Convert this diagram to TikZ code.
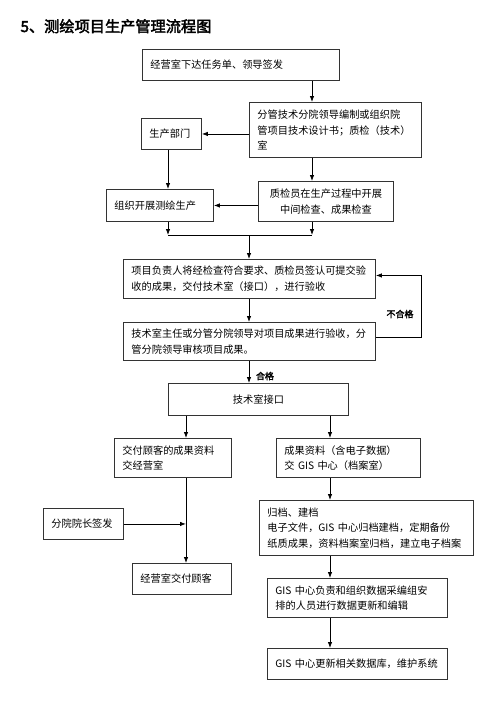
\documentclass[tikz,border=0pt]{standalone}
\usepackage{fontspec}
\setmainfont{Noto Sans CJK SC}[AutoFakeBold=2.5]
\usetikzlibrary{arrows.meta}

\tikzset{
  box/.style={draw=black!80, line width=0.9pt, anchor=north west, inner xsep=8pt, inner ysep=3pt,
    align=left, font=\fontsize{10.2}{15.5}\selectfont},
  arr/.style={-{Latex[length=6pt,width=4.5pt]}, line width=0.8pt},
  lbl/.style={font=\bfseries\fontsize{9}{11}\selectfont, inner sep=1pt}
}

\begin{document}
\begin{tikzpicture}[x=1pt, y=-1pt]
\useasboundingbox (0,0) rectangle (502,705);

\node[anchor=base west, font=\bfseries\fontsize{15.2}{18}\selectfont] (title) at (17,32) {5、测绘项目生产管理流程图};

% upper part
\node[box, minimum width=197pt, minimum height=31pt, text width=181pt] (order) at (142,49) {经营室下达任务单、领导签发};
\node[box, minimum width=172pt, minimum height=55pt, text width=156pt] (design) at (249,102) {分管技术分院领导编制或组织院\\管项目技术设计书；质检（技术）\\室};
\node[box, minimum width=60pt, minimum height=31pt, text width=44pt] (dept) at (141,118) {生产部门};
\node[box, minimum width=107pt, minimum height=32pt, text width=91pt] (organize) at (106,189) {组织开展测绘生产};
\node[box, minimum width=135pt, minimum height=40pt, text width=119pt, align=center] (check) at (258,181) {质检员在生产过程中开展\\中间检查、成果检查};

% acceptance
\node[box, minimum width=252pt, minimum height=39pt, text width=236pt] (submit) at (123,259) {项目负责人将经检查符合要求、质检员签认可提交验\\收的成果，交付技术室（接口），进行验收};
\node[box, minimum width=252pt, minimum height=38pt, text width=236pt] (accept) at (123,322) {技术室主任或分管分院领导对项目成果进行验收，分\\管分院领导审核项目成果。};
\node[box, minimum width=180pt, minimum height=32pt, text width=164pt, align=center] (iface) at (168,383) {技术室接口};

% delivery branch
\node[box, minimum width=117pt, minimum height=39pt, text width=101pt] (deliver) at (114,438) {交付顾客的成果资料\\交经营室};
\node[box, minimum width=80pt, minimum height=31pt, text width=64pt] (sign) at (43,508) {分院院长签发};
\node[box, minimum width=99pt, minimum height=31pt, text width=83pt] (customer) at (132,563) {经营室交付顾客};

% archive branch
\node[box, minimum width=144pt, minimum height=39pt, text width=128pt] (data) at (276,438) {成果资料（含电子数据）\\交 GIS 中心（档案室）};
\node[box, minimum width=214pt, minimum height=55pt, text width=198pt] (archive) at (259,500) {归档、建档\\电子文件，GIS 中心归档建档，定期备份\\纸质成果，资料档案室归档，建立电子档案};
\node[box, minimum width=180pt, minimum height=39pt, text width=164pt] (update) at (267,578) {GIS 中心负责和组织数据采编组安\\排的人员进行数据更新和编辑};
\node[box, minimum width=180pt, minimum height=31pt, text width=164pt] (maintain) at (267,648) {GIS 中心更新相关数据库，维护系统};

% vertical axes of the connectors
\coordinate (axL) at (168,0);
\coordinate (axR) at (312,0);
\coordinate (join) at (249,235);
\coordinate (axD) at (186,0);
\coordinate (axG) at (330,0);

\draw[arr] (order.south -| axR) -- (design.north -| axR);
\draw[arr] (design.west |- dept.east) -- (dept.east);
\draw[arr] (dept.south -| axL) -- (organize.north -| axL);
\draw[arr] (design.south -| axR) -- (check.north -| axR);
\draw[arr] (check.west |- organize.east) -- (organize.east);
\draw[arr] (organize.south -| axL) -- (join -| axL);
\draw[arr] (check.south -| axR) -- (join -| axR);
\draw[line width=0.8pt] (join -| axL) -- (join -| axR);
\draw[arr] (join) -- (submit.north -| join);
\draw[arr] (submit.south -| join) -- (accept.north -| join);
\draw[arr] ([yshift=4pt]accept.east) -- ++(45,0) |- ([yshift=3.5pt]submit.east);
\node[lbl] (fail) at (400,314) {不合格};
\draw[arr] (accept.south -| join) -- (iface.north -| join);
\node[lbl] (pass) at (265,376) {合格};

\draw[arr] (iface.south -| axD) -- (deliver.north -| axD);
\draw[arr] (iface.south -| axG) -- (data.north -| axG);
\draw[arr] (deliver.south -| axD) -- (customer.north -| axD);
\draw[arr] (sign.east) -- (sign.east -| axD);
\draw[arr] (data.south -| axG) -- (archive.north -| axG);
\draw[arr] (archive.south -| axG) -- (update.north -| axG);
\draw[arr] (update.south -| axG) -- (maintain.north -| axG);
\end{tikzpicture}
\end{document}
